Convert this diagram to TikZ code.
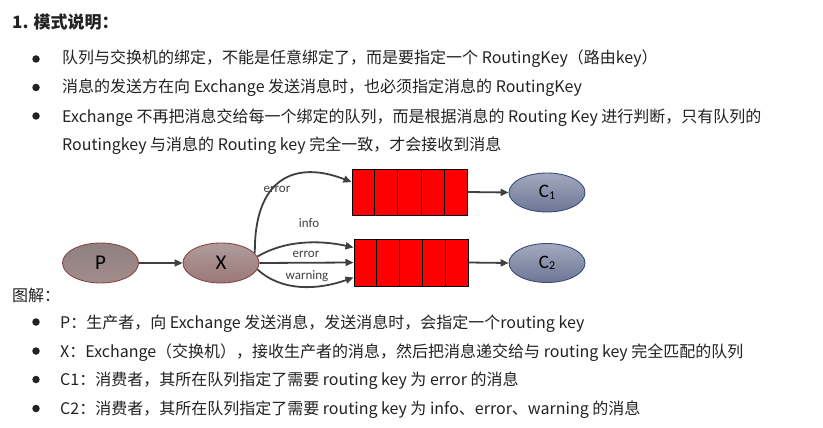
\documentclass[tikz,border=0pt]{standalone}
\usepackage{fontspec}
\setmainfont{Noto Sans CJK SC}
\newfontfamily\diafont{Carlito}
\usetikzlibrary{shapes.geometric,arrows.meta,calc}
\definecolor{txt}{HTML}{222222}
\definecolor{arr}{HTML}{404040}
\definecolor{pstroke}{HTML}{8A4545}
\definecolor{cstroke}{HTML}{3C4C7C}
\definecolor{c1top}{HTML}{A3AABE}
\definecolor{c1bot}{HTML}{6C7695}
\definecolor{pTop}{HTML}{8F8080}
\definecolor{pBot}{HTML}{A38C8C}
\definecolor{xTop}{HTML}{B09C9C}
\definecolor{xBot}{HTML}{9A7878}
\tikzset{
  line/.style={anchor=base west,inner sep=0pt,text=txt,font=\fontsize{16}{16}\selectfont},
  bul/.style={circle,fill=txt,inner sep=0pt,minimum size=7.5pt},
  pnode/.style={ellipse,draw=pstroke,line width=0.9pt,minimum width=76pt,minimum height=40pt,inner sep=0pt,font=\diafont\fontsize{21}{21}\selectfont},
  cnode/.style={ellipse,draw=cstroke,line width=0.9pt,top color=c1top,bottom color=c1bot,minimum width=76pt,minimum height=39pt,inner sep=0pt,font=\diafont\fontsize{19}{19}\selectfont},
  queue/.style={rectangle,draw=black,line width=1pt,fill=red,minimum width=115pt,minimum height=46pt,inner sep=0pt},
  conn/.style={draw=arr,line width=1.8pt,-{Triangle[length=8pt,width=7pt]}},
  lab/.style={font=\diafont\fontsize{13}{13}\selectfont,text=arr,inner sep=0pt}
}
\newcommand{\sub}[1]{\raisebox{-1.5pt}{\fontsize{12}{12}\selectfont #1}}
\begin{document}
\begin{tikzpicture}[x=1pt,y=-1pt]
\useasboundingbox[fill=white] (0,0) rectangle (823,428);
% title
\node[line,font=\bfseries\fontsize{17}{17}\selectfont] (title) at (12,29) {1. 模式说明：};
% top bullets
\node[bul] (b1) at (36,59) {};
\node[line] (t1) at (62,64) {队列与交换机的绑定，不能是任意绑定了，而是要指定一个 RoutingKey（路由key）};
\node[bul] (b2) at (36,87.5) {};
\node[line] (t2) at (62,93) {消息的发送方在向 Exchange 发送消息时，也必须指定消息的 RoutingKey};
\node[bul] (b3) at (36,116) {};
\node[line] (t3) at (62,122) {Exchange 不再把消息交给每一个绑定的队列，而是根据消息的 Routing Key 进行判断，只有队列的};
\node[line] (t4) at (62,150) {Routingkey 与消息的 Routing key 完全一致，才会接收到消息};
% diagram
\node[pnode,top color=pTop,bottom color=pBot] (P) at (100.5,263) {P};
\node[pnode,top color=xTop,bottom color=xBot] (X) at (221,263) {X};
\node[queue] (q1) at (409.5,192) {};
\node[queue,minimum height=47pt,minimum width=114pt] (q2) at (411,262.5) {};
\foreach \q in {q1,q2}{
  \foreach \i in {1,...,4}{
    \draw[line width=1pt] ($(\q.north west)!\i/5!(\q.north east)$) -- ($(\q.south west)!\i/5!(\q.south east)$);
  }
}
\node[cnode] (C1) at (547,192.5) {C\sub{1}};
\node[cnode] (C2) at (547,263) {C\sub{2}};
\draw[conn] (P.east) -- (X.west);
\draw[conn] (X.16) .. controls (254,178) and (295,160) .. ([yshift=10pt]q1.west);
\draw[conn] (X.10) .. controls (285,240) and (320,240) .. ([yshift=15pt]q2.west);
\draw[conn] (X.east) -- (q2.west);
\draw[conn] (X.-10) .. controls (282,292) and (318,290) .. ([yshift=-15pt]q2.west);
\draw[conn] (q1.east) -- (C1.west);
\draw[conn] (q2.east) -- (C2.west);
\node[lab] (l1) at (277,189) {error};
\node[lab] (l2) at (309,223) {info};
\node[lab] (l3) at (306,254) {error};
\node[lab] (l4) at (307,276) {warning};
% bottom
\node[line] (tu) at (12,301) {图解：};
\node[bul] (b5) at (36,322) {};
\node[line] (t5) at (60,328) {P：生产者，向 Exchange 发送消息，发送消息时，会指定一个routing key};
\node[bul] (b6) at (36,351) {};
\node[line] (t6) at (60,357) {X：Exchange（交换机），接收生产者的消息，然后把消息递交给与 routing key 完全匹配的队列};
\node[bul] (b7) at (36,379.5) {};
\node[line] (t7) at (60,385) {C1：消费者，其所在队列指定了需要 routing key 为 error 的消息};
\node[bul] (b8) at (36,408.5) {};
\node[line] (t8) at (60,414) {C2：消费者，其所在队列指定了需要 routing key 为 info、error、warning 的消息};
\end{tikzpicture}
\end{document}
